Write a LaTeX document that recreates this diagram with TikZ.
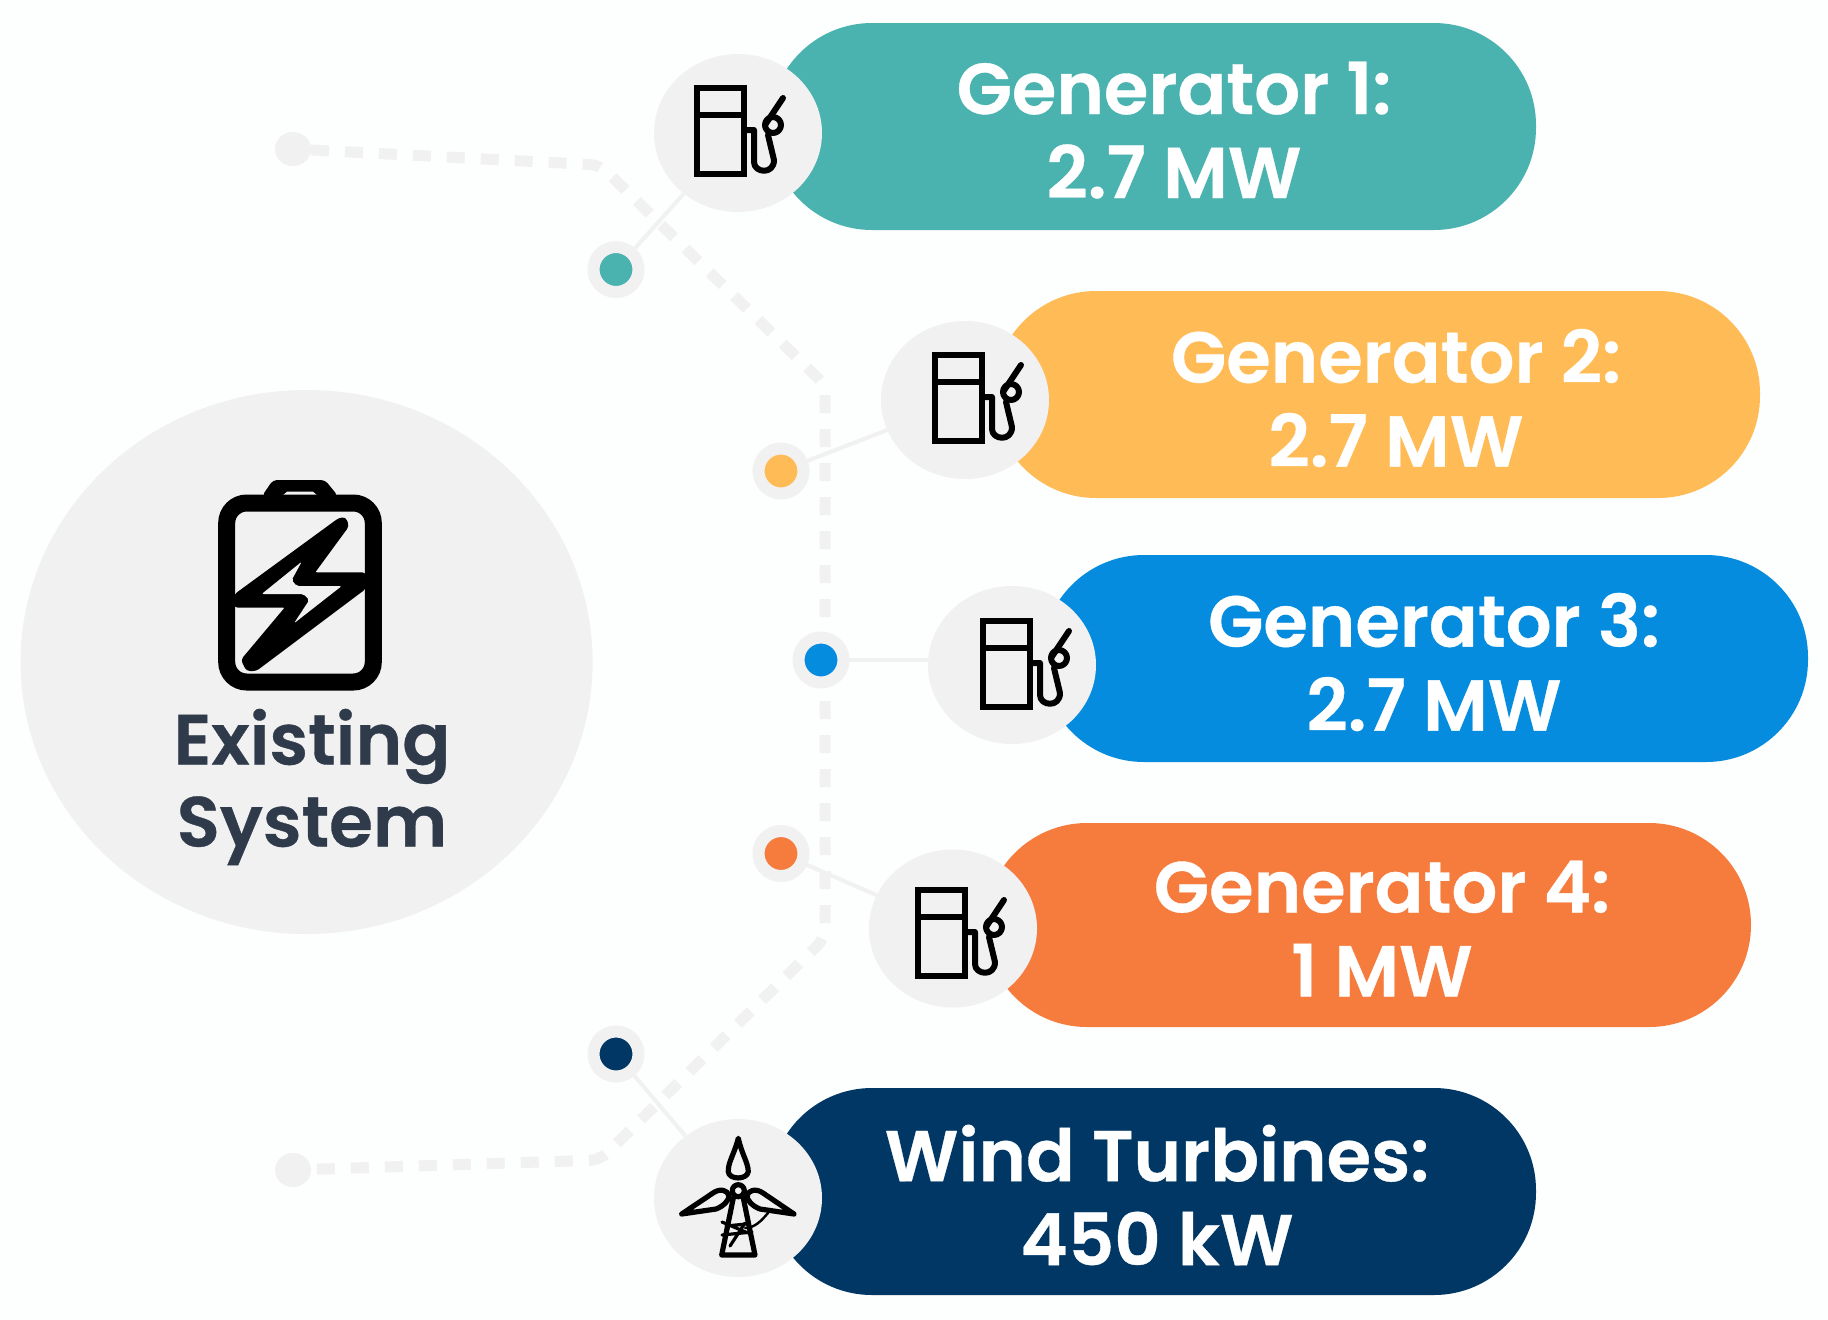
\documentclass[tikz,border=0pt]{standalone}
\usepackage{fontspec}
\setmainfont{Poppins}[BoldFont={Poppins SemiBold},BoldFeatures={FakeBold=0.5}]
\usetikzlibrary{positioning,shapes.geometric}
\definecolor{gencolA}{HTML}{4AB3AF}
\definecolor{gencolB}{HTML}{FFBB55}
\definecolor{gencolC}{HTML}{058CDF}
\definecolor{gencolD}{HTML}{F67C3E}
\definecolor{windcol}{HTML}{003764}
\definecolor{softgray}{HTML}{F2F1F2}
\definecolor{textdark}{HTML}{2F3B4A}
\definecolor{pagecol}{HTML}{FDFEFE}
\tikzset{
    pill/.style={rectangle, rounded corners=51pt, minimum width=383pt, minimum height=103.5pt, inner sep=0pt, outer sep=0pt},
    gentext/.style={text=white, font=\fontsize{36}{42}\selectfont\bfseries, align=center, inner sep=0pt, yshift=-1.75pt},
    iconcircle/.style={ellipse, fill=softgray, minimum width=84pt, minimum height=79pt, inner sep=0pt, outer sep=0pt},
    dotnode/.style={circle, draw=softgray, line width=6pt, minimum size=22.5pt, inner sep=0pt, outer sep=0pt},
    enddot/.style={ellipse, fill=softgray, minimum width=18pt, minimum height=17pt, inner sep=0pt, outer sep=0pt},
    link/.style={draw=softgray, line width=2pt},
    dashline/.style={draw=softgray, line width=5.5pt, dash pattern=on 9pt off 8pt, rounded corners=5pt},
    iconline/.style={draw=black, line width=3pt, line join=round, line cap=round},
    pump/.pic={
      \draw[iconline, line cap=butt, line join=miter] (2,3) rectangle (49,89);
      \draw[iconline, line cap=butt] (2,30) -- (49,30);
      \draw[iconline] (52,45) -- (59,45) -- (59,77) .. controls (59,88) and (79,90) .. (79,75) -- (73,50);
      \draw[iconline] (78,40) circle (8);
      \draw[iconline] (70,40) -- (88,13);
    }
}
\begin{document}
\begin{tikzpicture}[x=0.5pt, y=-0.5pt]
    \fill[pagecol] (0,0) rectangle (1828,1319);
    \useasboundingbox (0,0) rectangle (1828,1319);
    % dashed trunk
    \node[enddot] (startdot) at (293,149) {};
    \node[enddot] (enddot) at (293,1170) {};
    \coordinate (bendA) at (600,165);
    \coordinate (bendB) at (825,385);
    \coordinate (bendC) at (825,938);
    \coordinate (bendD) at (600,1160);
    \draw[dashline] (startdot) -- (bendA) -- (bendB) -- (bendC) -- (bendD) -- (enddot);
    % central circle
    \node[ellipse, fill=softgray, minimum width=286pt, minimum height=272pt, inner sep=0pt] (system) at (306.6,662) {};
    \node[text=textdark, font=\fontsize{35.5}{41}\selectfont\bfseries, align=center, inner sep=0pt] (systemtext) at (312,787) {Existing\\System};
    % battery
    \fill[rounded corners=2pt] (262,496) -- (273,480) -- (325,480) -- (338,496) -- cycle;
    \fill[softgray] (282,496) -- (287,491.7) -- (313,491.7) -- (318,496) -- cycle;
    \draw[line width=8.5pt, rounded corners=10pt] (226.7,503) rectangle (373.3,682);
    \filldraw[line width=1pt, line join=round, rounded corners=1.5pt] (339,519) -- (345,518) -- (348,526) -- (313.3,573.3) -- (365,573.3) -- (365,588.3) -- (256,670) -- (247,670) -- (242,660) -- (286.7,606.7) -- (235,606.7) -- (235,595) -- cycle;
    \fill[softgray, rounded corners=1pt] (301.7,561.7) -- (261.7,594) -- (303.3,594) -- (309.3,600) -- (294,623.3) -- (341.7,586) -- (296.7,586) -- (291.7,580) -- cycle;
    % pills
    \node[pill, fill=gencolA] (pillA) at (1153,126.5) {};
    \node[pill, fill=gencolB, below right=30.5pt and 112pt of pillA.south west] (pillB) {};
    \node[pill, fill=gencolC, below right=28.5pt and 24pt of pillB.south west] (pillC) {};
    \node[pill, fill=gencolD, minimum height=102pt, below right=30.5pt and -28.5pt of pillC.south west] (pillD) {};
    \node[pill, fill=windcol, below right=30.5pt and -107.5pt of pillD.south west] (pillE) {};
    \node[gentext, xshift=10.5pt] (textA) at (pillA) {Generator 1:\\2.7 MW};
    \node[gentext, xshift=9.5pt] (textB) at (pillB) {Generator 2:\\2.7 MW};
    \node[gentext, xshift=4.5pt] (textC) at (pillC) {Generator 3:\\2.7 MW};
    \node[gentext, xshift=7pt] (textD) at (pillD) {Generator 4:\\1 MW};
    \node[gentext, xshift=2pt] (textE) at (pillE) {Wind Turbines:\\450 kW};
    % icon circles
    \node[iconcircle, below left=3.25pt and 16pt of pillA.west, anchor=center] (iconA) {};
    \node[iconcircle, below left=2.75pt and 14.5pt of pillB.west, anchor=center] (iconB) {};
    \node[iconcircle, below left=3.25pt and 15pt of pillC.west, anchor=center] (iconC) {};
    \node[iconcircle, below left=1.75pt and 16pt of pillD.west, anchor=center] (iconD) {};
    \node[iconcircle, below left=3.25pt and 16pt of pillE.west, anchor=center] (iconE) {};
    % pumps
    \pic at (695,85) {pump};
    \pic at (933,352) {pump};
    \pic at (981,618) {pump};
    \pic at (916,887) {pump};
    % turbine
    \draw[iconline, line width=2.6pt] (738.3,1138.3) .. controls (734,1155) and (728,1162) .. (728.3,1171.7) .. controls (729,1180) and (747,1180) .. (748.3,1171.7) .. controls (748,1162) and (742,1155) .. (738.3,1138.3) -- cycle;
    \draw[iconline, line width=2.6pt] (738.3,1190.7) circle (6);
    \draw[iconline, line width=2.6pt] (681.7,1214) -- (713,1193) .. controls (720,1188) and (728,1190) .. (729,1196) .. controls (729,1200) and (724,1206) .. (716,1209) -- cycle;
    \draw[iconline, line width=2.6pt] (794,1214) -- (763,1193) .. controls (756,1188) and (748,1190) .. (747,1196) .. controls (747,1200) and (752,1206) .. (760,1209) -- cycle;
    \draw[iconline, line width=2.6pt] (733.3,1198) -- (721.7,1255) -- (755,1255) -- (743.3,1198);
    \draw[iconline, line width=1.6pt] (722,1222) -- (748,1233) (722,1235) -- (752,1232) (726,1226) -- (746,1224) (730,1246) -- (745,1223);
    \draw[iconline, line width=1.2pt] (745,1228) .. controls (755,1228) and (762,1220) .. (768,1213);
    % dots
    \node[dotnode, fill=gencolA, below left=68.25pt and 61pt of iconA.center, anchor=center] (dotA) {};
    \node[dotnode, fill=gencolB, below left=35.5pt and 92pt of iconB.center, anchor=center] (dotB) {};
    \node[dotnode, fill=gencolC, above left=2.5pt and 95.5pt of iconC.center, anchor=center] (dotC) {};
    \node[dotnode, fill=gencolD, above left=37.5pt and 86pt of iconD.center, anchor=center] (dotD) {};
    \node[dotnode, fill=windcol, above left=72pt and 61pt of iconE.center, anchor=center] (dotE) {};
    \draw[link] (dotA) -- (iconA);
    \draw[link] (dotB) -- (iconB);
    \draw[link] (dotC) -- (dotC -| iconC.west);
    \draw[link] (dotD) -- (iconD);
    \draw[link] (dotE) -- (iconE);
\end{tikzpicture}
\end{document}
